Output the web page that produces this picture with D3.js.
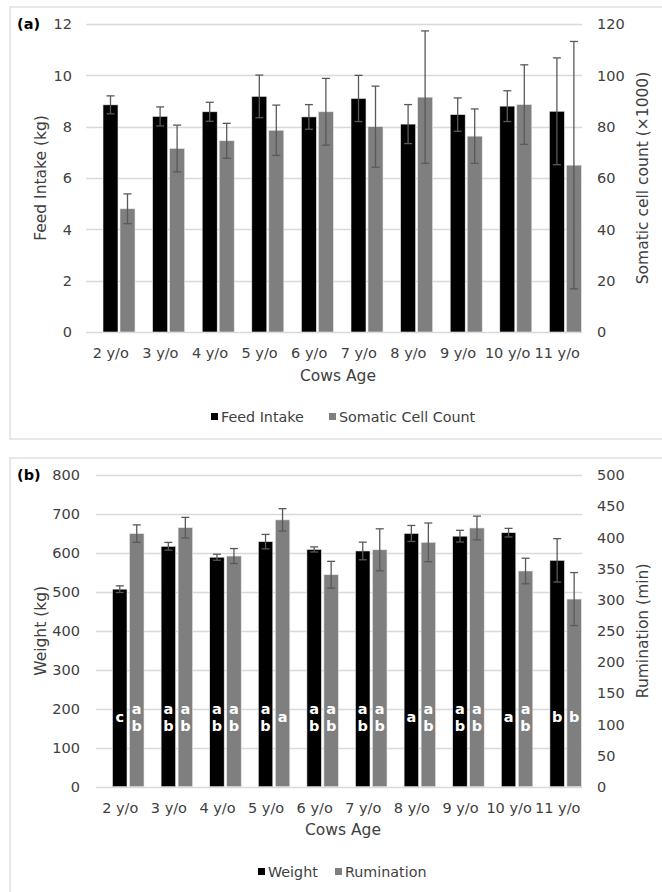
<!DOCTYPE html>
<html>
<head>
<meta charset="utf-8">
<script src="https://cdn.jsdelivr.net/npm/d3@7"></script>
<style>
  body { margin: 0; background: #fff; }
  svg text { font-family: "DejaVu Sans", Verdana, sans-serif; fill: #404040; }
</style>
</head>
<body>
<div class="chart"></div>
<script>
// Data
const ages = ["2 y/o", "3 y/o", "4 y/o", "5 y/o", "6 y/o", "7 y/o", "8 y/o", "9 y/o", "10 y/o", "11 y/o"]

// (a)
const feedIntake    = [8.85, 8.4, 8.58, 9.18, 8.38, 9.1, 8.1, 8.47, 8.8, 8.6]
const feedIntakeErr = [0.35, 0.37, 0.37, 0.83, 0.48, 0.9, 0.76, 0.65, 0.6, 2.08]
const scc           = [48, 71.5, 74.5, 78.6, 85.8, 80, 91.5, 76.3, 88.6, 65]
const sccErr        = [5.8, 9.1, 6.8, 9.8, 13, 15.8, 25.8, 10.6, 15.5, 48.2]
const feedTicks = [0, 2, 4, 6, 8, 10, 12]
const sccTicks  = [0, 20, 40, 60, 80, 100, 120]

// (b)
const weight       = [507, 617, 589, 629, 609, 605, 650, 643, 652, 581]
const weightErr    = [8.5, 10, 7.7, 18.5, 6.5, 22.6, 20.5, 15, 11, 55.7]
const rumination    = [406, 415.5, 370, 428, 340, 380, 392, 415, 346, 301]
const ruminationErr = [14, 16.5, 12, 18, 21.5, 33.7, 31, 19, 20.5, 42.5]
const weightLetters     = ["c", "ab", "ab", "ab", "ab", "ab", "a", "ab", "a", "b"]
const ruminationLetters = ["ab", "ab", "ab", "a", "ab", "ab", "ab", "ab", "ab", "b"]
const weightTicks = [0, 100, 200, 300, 400, 500, 600, 700, 800]
const rumTicks    = [0, 50, 100, 150, 200, 250, 300, 350, 400, 450, 500]

const width = 662
const height = 892
const svg = d3.select(".chart").append("svg")
    .attr("width", width)
    .attr("height", height)
    .attr("viewBox", [0, 0, width, height])

const black = "#000000"
const grey = "#7f7f7f"
const errColor = "#595959"

function drawPanel(p) {
    const g = svg.append("g")

    // Frame
    g.append("rect")
        .attr("x", p.frame[0]).attr("y", p.frame[1])
        .attr("width", p.frame[2]).attr("height", p.frame[3])
        .attr("fill", "none").attr("stroke", "#d9d9d9").attr("stroke-width", 1.2)

    const x = d3.scaleBand().domain(ages).range([p.left, p.right])
    const yL = d3.scaleLinear().domain(p.leftDomain).range([p.bottom, p.top])
    const yR = d3.scaleLinear().domain(p.rightDomain).range([p.bottom, p.top])
    const cx = d => x(d) + x.bandwidth() / 2

    // Gridlines
    g.append("g").selectAll("line")
        .data(p.leftTicks)
        .join("line")
        .attr("x1", p.left).attr("x2", p.right)
        .attr("y1", d => Math.round(yL(d)) + 0.5).attr("y2", d => Math.round(yL(d)) + 0.5)
        .attr("stroke", "#d9d9d9").attr("stroke-width", 1.3)

    // Left axis labels
    g.append("g").selectAll("text")
        .data(p.leftTicks)
        .join("text")
        .attr("x", p.left - p.tickPad).attr("y", d => yL(d))
        .attr("dy", "0.36em").attr("text-anchor", "end")
        .style("font-size", "14.5px")
        .text(d => d)

    // Right axis labels
    g.append("g").selectAll("text")
        .data(p.rightTicks)
        .join("text")
        .attr("x", 597).attr("y", d => yR(d))
        .attr("dy", "0.36em").attr("text-anchor", "start")
        .style("font-size", "14.5px")
        .text(d => d)

    const series = [
        {vals: p.s1, err: p.e1, y: yL, color: black, off: -7.8},
        {vals: p.s2, err: p.e2, y: yR, color: grey, off: 9.2}
    ]
    const bw = p.barWidth

    series.forEach(s => {
        const rows = ages.map((a, i) => ({a, v: s.vals[i], e: s.err[i]}))
        g.append("g").selectAll("rect")
            .data(rows)
            .join("rect")
            .attr("x", d => cx(d.a) + s.off)
            .attr("width", bw)
            .attr("y", d => s.y(d.v))
            .attr("height", d => s.y(0) - s.y(d.v))
            .attr("fill", s.color)
            .attr("stroke", "#e8e8e8").attr("stroke-width", 0.6)

        const eb = g.append("g").attr("stroke", errColor).attr("stroke-width", 1.3)
        eb.selectAll(".stem")
            .data(rows)
            .join("line")
            .attr("class", "stem")
            .attr("x1", d => cx(d.a) + s.off + bw / 2).attr("x2", d => cx(d.a) + s.off + bw / 2)
            .attr("y1", d => s.y(d.v + d.e)).attr("y2", d => s.y(Math.max(0, d.v - d.e)))
        ;[1, -1].forEach(sign => {
            eb.selectAll(".cap" + sign)
                .data(rows)
                .join("line")
                .attr("x1", d => cx(d.a) + s.off + bw / 2 - 4).attr("x2", d => cx(d.a) + s.off + bw / 2 + 4)
                .attr("y1", d => s.y(d.v + sign * d.e)).attr("y2", d => s.y(d.v + sign * d.e))
        })
    })

    // Significance letters (stacked one per line, like the original)
    if (p.letters) {
        p.letters.forEach((letters, k) => {
            const off = series[k].off
            letters.forEach((l, i) => {
                const chars = l.split("")
                chars.forEach((ch, j) => {
                    const dyLine = chars.length === 1 ? 0 : (j === 0 ? -8 : 8.5)
                    g.append("text")
                        .attr("x", cx(ages[i]) + off + bw / 2)
                        .attr("y", p.letterY + dyLine)
                        .attr("dy", "0.36em")
                        .attr("text-anchor", "middle")
                        .style("font-size", "14.5px").style("font-weight", "bold")
                        .style("fill", "#ffffff")
                        .text(ch)
                })
            })
        })
    }

    // Category labels
    g.append("g").selectAll("text")
        .data(ages)
        .join("text")
        .attr("x", d => cx(d)).attr("y", p.bottom + 21)
        .attr("dy", "0.36em").attr("text-anchor", "middle")
        .style("font-size", "14.5px")
        .text(d => d)

    // Axis titles
    g.append("text")
        .attr("x", (p.left + p.right) / 2 + 4).attr("y", p.bottom + 43)
        .attr("dy", "0.36em").attr("text-anchor", "middle")
        .style("font-size", "15.5px")
        .text("Cows Age")

    g.append("text")
        .attr("transform", `translate(40,${(p.top + p.bottom) / 2}) rotate(-90)`)
        .attr("dy", "0.36em").attr("text-anchor", "middle")
        .style("font-size", "15.5px")
        .text(p.leftTitle)

    g.append("text")
        .attr("transform", `translate(642,${(p.top + p.bottom) / 2}) rotate(-90)`)
        .attr("dy", "0.36em").attr("text-anchor", "middle")
        .style("font-size", "15.5px")
        .text(p.rightTitle)

    // Panel tag
    g.append("text")
        .attr("x", 17).attr("y", p.top)
        .attr("dy", "0.36em")
        .style("font-size", "14.5px").style("font-weight", "bold")
        .style("fill", "#000")
        .text(p.tag)

    // Legend
    const leg = g.append("g").attr("transform", `translate(0,${p.legendY})`)
    p.legend.forEach((l, i) => {
        leg.append("rect")
            .attr("x", l.x - 10).attr("y", -4)
            .attr("width", 7).attr("height", 7)
            .attr("fill", i === 0 ? black : grey)
        leg.append("text")
            .attr("x", l.x).attr("y", 0)
            .attr("dy", "0.36em")
            .style("font-size", "14.3px")
            .text(l.name)
    })
}

drawPanel({
    frame: [10, 7, 660, 432],
    left: 86, right: 582, top: 24, bottom: 332,
    leftDomain: [0, 12], rightDomain: [0, 120],
    leftTicks: feedTicks, rightTicks: sccTicks,
    tickPad: 14,
    s1: feedIntake, e1: feedIntakeErr, s2: scc, e2: sccErr,
    barWidth: 15,
    leftTitle: "Feed Intake (kg)", rightTitle: "Somatic cell count (×1000)",
    tag: "(a)",
    legendY: 417,
    legend: [{name: "Feed Intake", x: 221}, {name: "Somatic Cell Count", x: 339}]
})

drawPanel({
    frame: [10, 458, 660, 450],
    left: 96, right: 582, top: 475, bottom: 786.7,
    leftDomain: [0, 800], rightDomain: [0, 500],
    leftTicks: weightTicks, rightTicks: rumTicks,
    tickPad: 16,
    s1: weight, e1: weightErr, s2: rumination, e2: ruminationErr,
    barWidth: 14.5,
    letters: [weightLetters, ruminationLetters],
    letterY: 717,
    leftTitle: "Weight (kg)", rightTitle: "Rumination (min)",
    tag: "(b)",
    legendY: 872,
    legend: [{name: "Weight", x: 268}, {name: "Rumination", x: 345}]
})
</script>
</body>
</html>
